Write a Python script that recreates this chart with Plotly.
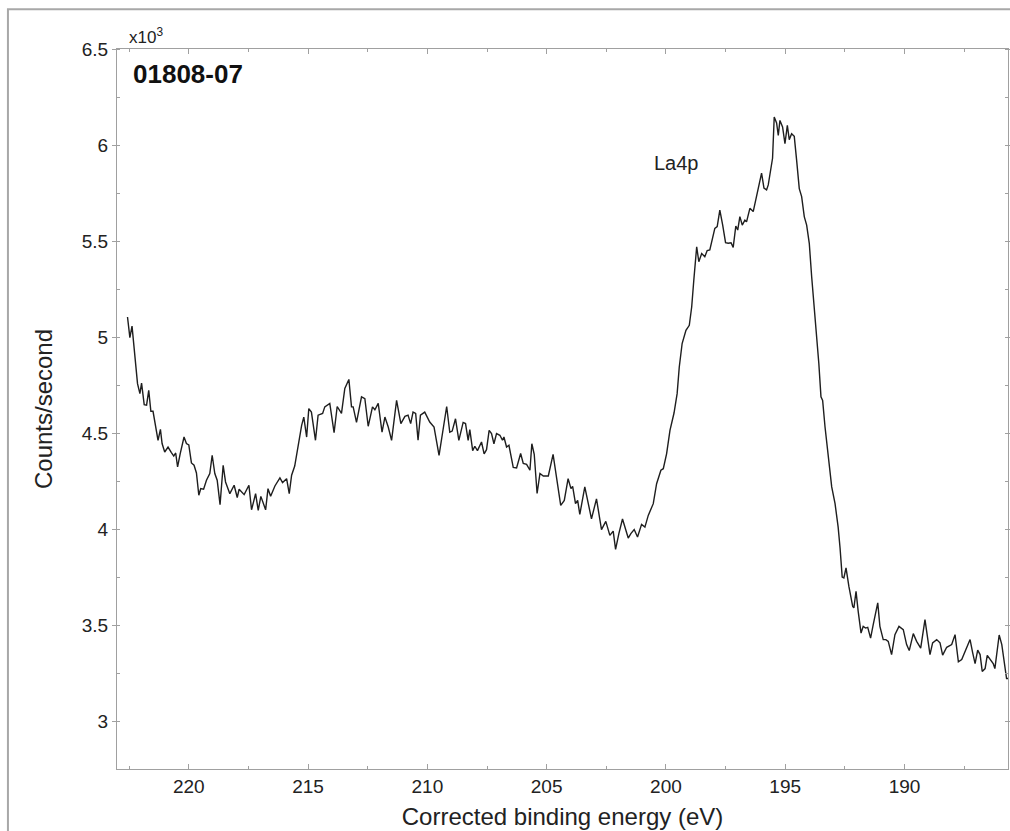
import plotly.graph_objects as go

# Binding energy (eV) and counts/second (x10^3)
energy_ev = [
    222.57, 222.47, 222.38, 222.29, 222.15, 222.05, 221.98, 221.87, 221.77, 221.68,
    221.59, 221.50, 221.40, 221.29, 221.19, 221.12, 221.01, 220.87, 220.73, 220.63,
    220.55, 220.47, 220.36, 220.20, 220.10, 220.00, 219.89, 219.78, 219.68, 219.58,
    219.50, 219.38, 219.26, 219.12, 219.02, 218.91, 218.81, 218.69, 218.56, 218.46,
    218.28, 218.10, 217.97, 217.89, 217.68, 217.48, 217.37, 217.20, 217.09, 216.98,
    216.78, 216.68, 216.57, 216.39, 216.18, 216.07, 215.90, 215.79, 215.69, 215.56,
    215.27, 215.18, 215.06, 214.97, 214.86, 214.69, 214.58, 214.39, 214.30, 214.09,
    213.91, 213.78, 213.60, 213.46, 213.29, 213.18, 213.11, 212.97, 212.76, 212.62,
    212.48, 212.30, 212.20, 212.06, 211.90, 211.78, 211.64, 211.50, 211.29, 211.11,
    210.94, 210.81, 210.70, 210.60, 210.49, 210.39, 210.29, 210.11, 209.90, 209.72,
    209.51, 209.19, 209.06, 208.96, 208.82, 208.68, 208.50, 208.40, 208.29, 208.22,
    208.10, 208.01, 207.90, 207.73, 207.62, 207.52, 207.41, 207.31, 207.21, 207.10,
    206.96, 206.85, 206.79, 206.68, 206.58, 206.40, 206.26, 206.09, 205.98, 205.84,
    205.70, 205.62, 205.52, 205.40, 205.28, 205.14, 204.93, 204.73, 204.41, 204.26,
    204.10, 203.98, 203.91, 203.79, 203.70, 203.61, 203.40, 203.12, 202.91, 202.70,
    202.52, 202.35, 202.21, 202.11, 201.97, 201.82, 201.58, 201.47, 201.33, 201.19,
    201.02, 200.88, 200.74, 200.53, 200.39, 200.21, 200.11, 199.97, 199.83, 199.66,
    199.53, 199.44, 199.32, 199.16, 199.02, 198.92, 198.83, 198.71, 198.62, 198.50,
    198.37, 198.27, 198.16, 198.04, 197.95, 197.85, 197.74, 197.62, 197.50, 197.39,
    197.27, 197.18, 197.07, 196.99, 196.90, 196.80, 196.69, 196.62, 196.48, 196.34,
    196.20, 196.09, 195.99, 195.89, 195.78, 195.71, 195.60, 195.53, 195.46, 195.36,
    195.29, 195.22, 195.11, 195.01, 194.91, 194.83, 194.73, 194.62, 194.52, 194.41,
    194.31, 194.20, 194.10, 193.99, 193.89, 193.78, 193.68, 193.59, 193.50, 193.43,
    193.33, 193.22, 193.15, 193.05, 192.91, 192.78, 192.70, 192.61, 192.54, 192.45,
    192.33, 192.17, 192.12, 192.03, 191.94, 191.82, 191.73, 191.63, 191.54, 191.42,
    191.31, 191.12, 191.03, 190.89, 190.78, 190.68, 190.54, 190.40, 190.23, 190.05,
    189.91, 189.80, 189.63, 189.49, 189.32, 189.14, 189.04, 188.93, 188.82, 188.65,
    188.51, 188.40, 188.23, 188.02, 187.88, 187.74, 187.60, 187.43, 187.25, 187.14,
    187.04, 186.93, 186.83, 186.74, 186.62, 186.53, 186.42, 186.28, 186.21, 186.03,
    185.92, 185.83, 185.72, 185.66,
]

counts_k = [
    5.104, 4.997, 5.057, 4.948, 4.757, 4.705, 4.760, 4.648, 4.645, 4.722,
    4.613, 4.613, 4.531, 4.462, 4.519, 4.445, 4.401, 4.427, 4.398, 4.380,
    4.396, 4.323, 4.393, 4.479, 4.445, 4.438, 4.344, 4.332, 4.292, 4.176,
    4.210, 4.207, 4.254, 4.289, 4.384, 4.289, 4.254, 4.127, 4.332, 4.245,
    4.184, 4.228, 4.164, 4.207, 4.179, 4.228, 4.100, 4.184, 4.097, 4.170,
    4.100, 4.210, 4.171, 4.224, 4.266, 4.242, 4.262, 4.184, 4.280, 4.328,
    4.540, 4.583, 4.479, 4.627, 4.609, 4.462, 4.593, 4.602, 4.636, 4.654,
    4.502, 4.638, 4.602, 4.732, 4.779, 4.636, 4.636, 4.555, 4.688, 4.679,
    4.535, 4.636, 4.621, 4.654, 4.504, 4.583, 4.531, 4.462, 4.670, 4.549,
    4.587, 4.593, 4.549, 4.609, 4.602, 4.462, 4.593, 4.609, 4.557, 4.531,
    4.383, 4.638, 4.504, 4.510, 4.574, 4.462, 4.555, 4.549, 4.462, 4.518,
    4.408, 4.431, 4.408, 4.453, 4.391, 4.413, 4.514, 4.497, 4.444, 4.497,
    4.488, 4.462, 4.479, 4.427, 4.436, 4.321, 4.318, 4.393, 4.341, 4.337,
    4.306, 4.444, 4.389, 4.185, 4.289, 4.276, 4.276, 4.389, 4.123, 4.149,
    4.262, 4.210, 4.222, 4.132, 4.149, 4.076, 4.219, 4.053, 4.157, 3.997,
    4.040, 3.967, 3.989, 3.894, 3.977, 4.052, 3.953, 3.976, 3.997, 3.958,
    4.024, 4.010, 4.071, 4.132, 4.236, 4.306, 4.314, 4.393, 4.514, 4.604,
    4.705, 4.844, 4.966, 5.035, 5.061, 5.156, 5.297, 5.470, 5.392, 5.435,
    5.418, 5.450, 5.453, 5.523, 5.566, 5.575, 5.661, 5.583, 5.491, 5.488,
    5.491, 5.467, 5.578, 5.557, 5.627, 5.583, 5.609, 5.600, 5.670, 5.653,
    5.731, 5.801, 5.853, 5.775, 5.766, 5.792, 5.870, 5.931, 6.146, 6.115,
    6.050, 6.128, 6.094, 6.007, 6.102, 6.028, 6.059, 6.045, 5.920, 5.773,
    5.731, 5.627, 5.583, 5.488, 5.314, 5.156, 5.018, 4.862, 4.688, 4.670,
    4.531, 4.410, 4.323, 4.219, 4.132, 4.010, 3.901, 3.750, 3.745, 3.797,
    3.701, 3.597, 3.589, 3.675, 3.571, 3.458, 3.493, 3.484, 3.488, 3.432,
    3.502, 3.615, 3.493, 3.424, 3.424, 3.415, 3.346, 3.450, 3.493, 3.476,
    3.398, 3.367, 3.455, 3.415, 3.380, 3.528, 3.441, 3.346, 3.407, 3.424,
    3.407, 3.343, 3.384, 3.398, 3.450, 3.308, 3.320, 3.372, 3.424, 3.355,
    3.299, 3.369, 3.346, 3.258, 3.273, 3.342, 3.320, 3.299, 3.273, 3.448,
    3.398, 3.316, 3.221, 3.221,
]

sample_label = "01808-07"
peak_label = "La4p"
peak_label_pos = (199.55, 5.907)
x_title = "Corrected binding energy (eV)"
y_title = "Counts/second"
x_range = [223.01, 185.66]
y_range = [2.75, 6.5]

FONT = "Liberation Sans, Arial, sans-serif"
AXIS_COLOR = "#a0a0a0"
TEXT_COLOR = "#222222"

fig = go.Figure()
fig.add_trace(go.Scatter(
    x=energy_ev, y=counts_k, mode="lines",
    line=dict(color="#1e1e1e", width=1.4),
    showlegend=False, hoverinfo="x+y",
))

fig.update_layout(
    width=1010, height=831,
    margin=dict(l=117, r=2, t=49, b=62, autoexpand=False),
    paper_bgcolor="white", plot_bgcolor="white",
    font=dict(family=FONT, color=TEXT_COLOR, size=19),
    showlegend=False,
)

fig.update_xaxes(
    range=x_range, showgrid=False, zeroline=False, automargin=False,
    showline=True, linecolor=AXIS_COLOR, linewidth=1, mirror="ticks",
    tick0=190, dtick=5, ticks="inside", ticklen=5, tickcolor=AXIS_COLOR,
    tickfont=dict(size=19, color=TEXT_COLOR),
    minor=dict(dtick=2.5, tick0=190, ticks="inside", ticklen=3, tickcolor=AXIS_COLOR),
    title=dict(text=x_title, font=dict(size=24, color=TEXT_COLOR), standoff=12),
)
fig.update_yaxes(
    range=y_range, showgrid=False, zeroline=False, automargin=False,
    showline=True, linecolor=AXIS_COLOR, linewidth=1, mirror="ticks",
    tick0=3, dtick=0.5, ticks="outside", ticklen=4, tickcolor=AXIS_COLOR,
    tickfont=dict(size=19, color=TEXT_COLOR),
    minor=dict(dtick=0.25, tick0=3, ticks="inside", ticklen=3, tickcolor=AXIS_COLOR),
    title=dict(text=y_title, font=dict(size=24, color=TEXT_COLOR), standoff=22),
)

fig.add_annotation(
    xref="paper", yref="paper", x=0.011, y=1.0176, xanchor="left", yanchor="middle",
    text="x10<sup>3</sup>", showarrow=False, font=dict(size=17, color=TEXT_COLOR),
)
fig.add_annotation(
    xref="paper", yref="paper", x=0.0162, y=0.965, xanchor="left", yanchor="middle",
    text="<b>" + sample_label + "</b>", showarrow=False, font=dict(size=26, color="#111111"),
)
fig.add_annotation(
    x=peak_label_pos[0], y=peak_label_pos[1], xref="x", yref="y",
    text=peak_label, showarrow=False, font=dict(size=20, color=TEXT_COLOR),
)

# outer grey frame of the figure panel
fig.add_shape(
    type="rect", xref="paper", yref="paper",
    x0=-0.1224, y0=-0.3, x1=1.05, y1=1.0551,
    line=dict(color="#a8a8a8", width=2), fillcolor="rgba(0,0,0,0)", layer="above",
)

fig.write_html("out.html")
